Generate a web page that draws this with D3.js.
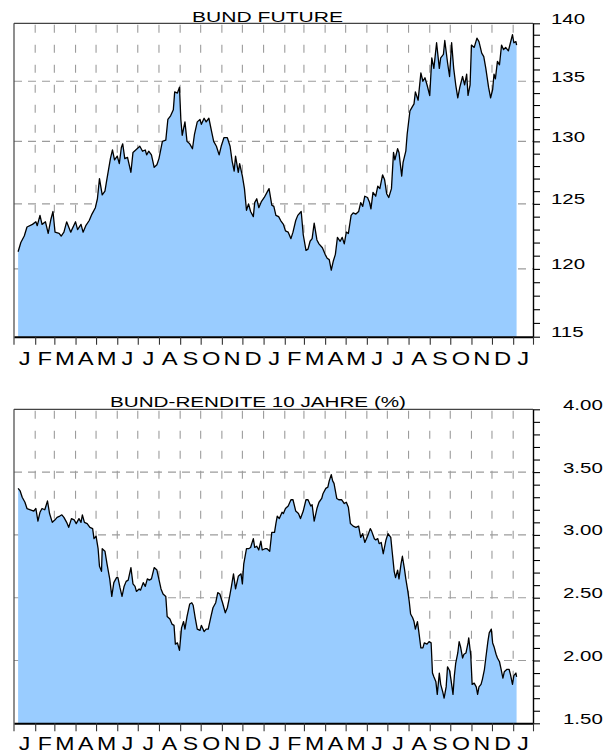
<!DOCTYPE html>
<html><head><meta charset="utf-8">
<script src="https://cdn.jsdelivr.net/npm/d3@7"></script>
<style>
body{margin:0;background:#fff;}
svg{display:block;font-family:"Liberation Sans",Arial,sans-serif;}
</style></head><body>
<svg id="c" width="615" height="754"></svg>
<script>
const monthLabels = ["J","F","M","A","M","J","J","A","S","O","N","D","J","F","M","A","M","J","J","A","S","O","N","D","J"];
const futTicks = [115,120,125,130,135,140];
const yldTicks = [1.5,2.0,2.5,3.0,3.5,4.0];
const futTitle = "BUND FUTURE";
const yldTitle = "BUND-RENDITE 10 JAHRE (%)";

const futDates = ["2010-01-07","2010-01-11","2010-01-16","2010-01-20","2010-01-28","2010-02-02","2010-02-04","2010-02-08","2010-02-11","2010-02-16","2010-02-20","2010-02-24","2010-02-27","2010-03-02","2010-03-08","2010-03-11","2010-03-15","2010-03-19","2010-03-22","2010-03-25","2010-04-01","2010-04-04","2010-04-09","2010-04-12","2010-04-16","2010-04-21","2010-04-25","2010-04-30","2010-05-03","2010-05-06","2010-05-10","2010-05-14","2010-05-17","2010-05-22","2010-05-25","2010-05-28","2010-06-01","2010-06-04","2010-06-07","2010-06-09","2010-06-12","2010-06-16","2010-06-21","2010-06-24","2010-06-28","2010-07-04","2010-07-08","2010-07-12","2010-07-14","2010-07-17","2010-07-21","2010-07-25","2010-07-29","2010-08-01","2010-08-06","2010-08-11","2010-08-14","2010-08-18","2010-08-22","2010-08-24","2010-08-28","2010-08-31","2010-09-02","2010-09-04","2010-09-08","2010-09-11","2010-09-15","2010-09-19","2010-09-22","2010-09-26","2010-09-30","2010-10-02","2010-10-06","2010-10-09","2010-10-13","2010-10-17","2010-10-20","2010-10-24","2010-10-28","2010-10-31","2010-11-04","2010-11-09","2010-11-13","2010-11-16","2010-11-19","2010-11-21","2010-11-25","2010-11-27","2010-12-01","2010-12-04","2010-12-07","2010-12-10","2010-12-13","2010-12-17","2010-12-19","2010-12-22","2010-12-25","2010-12-29","2011-01-02","2011-01-06","2011-01-09","2011-01-13","2011-01-16","2011-01-19","2011-01-23","2011-01-26","2011-01-30","2011-02-02","2011-02-06","2011-02-10","2011-02-13","2011-02-17","2011-02-20","2011-02-25","2011-02-28","2011-03-04","2011-03-07","2011-03-10","2011-03-13","2011-03-16","2011-03-20","2011-03-23","2011-03-28","2011-04-01","2011-04-04","2011-04-07","2011-04-10","2011-04-13","2011-04-16","2011-04-19","2011-04-23","2011-04-26","2011-04-29","2011-05-02","2011-05-05","2011-05-09","2011-05-12","2011-05-16","2011-05-20","2011-05-23","2011-05-26","2011-05-29","2011-06-02","2011-06-05","2011-06-07","2011-06-10","2011-06-14","2011-06-17","2011-06-20","2011-06-24","2011-06-27","2011-06-30","2011-07-03","2011-07-07","2011-07-10","2011-07-12","2011-07-16","2011-07-18","2011-07-22","2011-07-24","2011-07-28","2011-07-30","2011-08-03","2011-08-06","2011-08-09","2011-08-11","2011-08-15","2011-08-19","2011-08-22","2011-08-25","2011-08-28","2011-09-01","2011-09-04","2011-09-07","2011-09-11","2011-09-15","2011-09-17","2011-09-21","2011-09-23","2011-09-27","2011-09-30","2011-10-03","2011-10-06","2011-10-09","2011-10-12","2011-10-15","2011-10-19","2011-10-22","2011-10-25","2011-10-27","2011-10-30","2011-11-01","2011-11-05","2011-11-09","2011-11-12","2011-11-16","2011-11-19","2011-11-22","2011-11-26","2011-11-29","2011-12-02","2011-12-04","2011-12-06","2011-12-09","2011-12-12","2011-12-15","2011-12-18","2011-12-21","2011-12-25","2011-12-28","2011-12-31","2012-01-02","2012-01-05","2012-01-06"];
const futValues = [121.3,122.0,122.5,123.2,123.4,123.6,123.3,124.1,123.4,123.6,122.7,123.8,124.4,122.8,122.7,122.5,122.8,123.6,123.2,122.8,123.6,123.0,123.4,122.8,123.3,123.7,124.2,124.7,125.4,127.0,125.7,126.0,127.0,128.6,129.3,128.5,128.8,128.2,129.5,129.8,128.6,128.7,127.5,129.1,129.3,129.6,129.2,129.3,128.9,129.2,128.9,127.9,128.1,128.6,130.0,130.1,131.8,132.1,132.6,134.1,134.0,134.5,131.8,130.5,131.6,130.0,129.8,129.4,130.6,131.6,131.8,131.4,131.9,131.6,131.9,130.8,130.0,129.6,128.9,129.6,130.3,130.3,129.6,128.4,127.6,128.8,127.5,128.2,127.2,126.2,124.5,125.0,124.4,124.0,125.1,125.4,124.7,125.2,125.5,125.9,126.2,124.9,124.8,124.1,124.0,123.7,123.4,122.9,122.8,122.3,122.8,123.7,124.1,124.4,122.6,121.4,121.5,122.1,122.3,123.5,122.2,121.9,121.6,121.1,120.8,120.7,119.9,120.6,121.1,122.4,122.1,122.4,121.9,122.8,122.7,124.1,124.3,124.2,124.4,125.1,124.8,125.6,125.5,125.1,124.6,125.9,125.6,126.4,126.2,127.3,126.9,125.8,125.5,126.2,129.1,128.5,129.4,129.1,127.2,128.3,129.2,130.6,132.5,132.8,133.1,134.1,133.4,135.7,135.0,135.3,134.7,133.8,137.0,136.1,138.3,136.1,137.0,137.3,138.5,136.6,135.4,138.3,136.1,134.7,133.6,134.5,135.4,134.7,135.6,133.8,134.7,138.1,137.9,138.7,138.4,137.4,137.1,136.1,134.5,133.6,134.3,135.6,135.2,136.7,136.4,138.1,137.7,137.9,137.6,138.3,139.0,138.3,138.4,138.1];

const yldDates = ["2010-01-07","2010-01-10","2010-01-13","2010-01-17","2010-01-20","2010-01-25","2010-01-30","2010-02-02","2010-02-05","2010-02-08","2010-02-11","2010-02-15","2010-02-19","2010-02-22","2010-02-26","2010-03-02","2010-03-05","2010-03-09","2010-03-12","2010-03-15","2010-03-19","2010-03-22","2010-03-26","2010-03-30","2010-04-02","2010-04-06","2010-04-09","2010-04-11","2010-04-14","2010-04-18","2010-04-22","2010-04-26","2010-04-28","2010-05-01","2010-05-04","2010-05-06","2010-05-09","2010-05-10","2010-05-14","2010-05-17","2010-05-21","2010-05-24","2010-05-27","2010-05-31","2010-06-02","2010-06-05","2010-06-08","2010-06-11","2010-06-14","2010-06-17","2010-06-21","2010-06-24","2010-06-27","2010-06-29","2010-07-03","2010-07-05","2010-07-09","2010-07-12","2010-07-15","2010-07-18","2010-07-21","2010-07-25","2010-07-29","2010-07-31","2010-08-04","2010-08-07","2010-08-11","2010-08-13","2010-08-17","2010-08-20","2010-08-23","2010-08-25","2010-08-28","2010-08-31","2010-09-03","2010-09-06","2010-09-08","2010-09-11","2010-09-15","2010-09-18","2010-09-20","2010-09-23","2010-09-26","2010-09-30","2010-10-02","2010-10-06","2010-10-09","2010-10-12","2010-10-16","2010-10-19","2010-10-23","2010-10-26","2010-10-29","2010-11-02","2010-11-06","2010-11-09","2010-11-12","2010-11-15","2010-11-18","2010-11-21","2010-11-25","2010-11-29","2010-12-01","2010-12-03","2010-12-07","2010-12-10","2010-12-13","2010-12-17","2010-12-19","2010-12-22","2010-12-25","2010-12-28","2010-12-30","2011-01-03","2011-01-06","2011-01-10","2011-01-13","2011-01-17","2011-01-19","2011-01-21","2011-01-24","2011-01-28","2011-01-30","2011-02-02","2011-02-06","2011-02-10","2011-02-13","2011-02-17","2011-02-21","2011-02-24","2011-02-28","2011-03-04","2011-03-07","2011-03-11","2011-03-13","2011-03-16","2011-03-20","2011-03-23","2011-03-27","2011-03-29","2011-04-02","2011-04-05","2011-04-07","2011-04-10","2011-04-12","2011-04-14","2011-04-18","2011-04-21","2011-04-25","2011-04-29","2011-05-02","2011-05-05","2011-05-08","2011-05-12","2011-05-16","2011-05-20","2011-05-23","2011-05-26","2011-05-29","2011-06-02","2011-06-06","2011-06-08","2011-06-12","2011-06-14","2011-06-17","2011-06-19","2011-06-22","2011-06-25","2011-06-29","2011-07-02","2011-07-06","2011-07-08","2011-07-11","2011-07-13","2011-07-16","2011-07-18","2011-07-21","2011-07-23","2011-07-26","2011-07-28","2011-07-31","2011-08-02","2011-08-04","2011-08-07","2011-08-09","2011-08-11","2011-08-14","2011-08-16","2011-08-19","2011-08-22","2011-08-24","2011-08-28","2011-08-31","2011-09-03","2011-09-05","2011-09-07","2011-09-10","2011-09-12","2011-09-15","2011-09-17","2011-09-20","2011-09-22","2011-09-25","2011-09-27","2011-09-30","2011-10-02","2011-10-05","2011-10-07","2011-10-09","2011-10-12","2011-10-14","2011-10-16","2011-10-19","2011-10-21","2011-10-24","2011-10-27","2011-10-28","2011-10-31","2011-11-02","2011-11-05","2011-11-08","2011-11-10","2011-11-12","2011-11-15","2011-11-17","2011-11-20","2011-11-22","2011-11-25","2011-11-27","2011-11-30","2011-12-02","2011-12-04","2011-12-07","2011-12-09","2011-12-12","2011-12-14","2011-12-17","2011-12-19","2011-12-23","2011-12-26","2011-12-28","2011-12-31","2012-01-02","2012-01-05","2012-01-06"];
const yldValues = [3.37,3.35,3.30,3.26,3.21,3.20,3.19,3.21,3.11,3.18,3.21,3.20,3.27,3.17,3.10,3.12,3.14,3.15,3.16,3.14,3.10,3.06,3.13,3.12,3.09,3.13,3.10,3.16,3.10,3.09,3.06,3.05,2.97,2.99,2.89,2.75,2.71,2.89,2.87,2.77,2.65,2.51,2.62,2.66,2.66,2.58,2.51,2.59,2.63,2.64,2.74,2.61,2.59,2.55,2.57,2.56,2.62,2.59,2.65,2.64,2.65,2.74,2.72,2.67,2.57,2.53,2.51,2.35,2.33,2.29,2.28,2.13,2.14,2.08,2.26,2.31,2.25,2.35,2.45,2.46,2.44,2.34,2.25,2.24,2.28,2.23,2.25,2.25,2.35,2.42,2.46,2.54,2.53,2.46,2.38,2.42,2.50,2.59,2.69,2.57,2.67,2.69,2.61,2.77,2.89,2.89,2.90,2.97,2.90,2.91,2.88,2.95,2.88,2.89,2.89,2.87,3.02,3.02,3.09,3.15,3.13,3.18,3.17,3.21,3.23,3.28,3.28,3.19,3.17,3.13,3.19,3.28,3.28,3.23,3.24,3.11,3.21,3.26,3.29,3.33,3.37,3.38,3.43,3.48,3.43,3.41,3.29,3.28,3.28,3.25,3.26,3.22,3.09,3.07,3.06,3.07,2.98,3.01,2.94,2.99,3.05,3.03,2.97,2.96,2.97,2.93,2.94,2.85,2.96,3.01,2.98,2.87,2.71,2.66,2.72,2.65,2.77,2.83,2.73,2.65,2.55,2.47,2.37,2.34,2.31,2.25,2.31,2.23,2.10,2.10,2.14,2.13,2.15,2.14,1.90,1.87,1.83,1.73,1.90,1.81,1.75,1.70,1.79,1.95,1.92,1.85,1.73,1.88,1.98,2.06,2.15,2.11,2.02,2.05,2.06,2.14,2.18,2.04,1.81,1.82,1.79,1.73,1.79,1.81,1.85,1.93,2.02,2.15,2.22,2.25,2.14,2.11,2.05,2.02,1.99,1.94,1.86,1.91,1.93,1.93,1.89,1.81,1.88,1.90,1.87];

const L = 14, R = 533, SX = 1.32;
const parse = d3.timeParse("%Y-%m-%d");
const x = d3.scaleTime().domain([new Date(2010,0,1), new Date(2012,0,30)]).range([L, R]);
const months = d3.timeMonth.range(new Date(2010,0,1), new Date(2012,1,1));
const svg = d3.select("#c");

function panel(o) {
  const g = svg.append("g");
  const y = o.y, T = o.top, B = o.bottom;
  g.append("g").selectAll("line").data(months.slice(1)).join("line")
    .attr("x1", d => x(d)).attr("x2", d => x(d))
    .attr("y1", T + 1.5).attr("y2", B)
    .attr("stroke", "#9c9c9c").attr("stroke-width", 1.1)
    .attr("stroke-dasharray", "8,12");
  g.append("g").selectAll("line").data(o.major.slice(1, -1)).join("line")
    .attr("x1", L).attr("x2", R)
    .attr("y1", d => y(d)).attr("y2", d => y(d))
    .attr("stroke", "#9c9c9c").attr("stroke-width", 1.1)
    .attr("stroke-dasharray", "8,6");
  const data = o.dates.map((d, i) => ({d: parse(d), v: o.values[i]}));
  g.append("path").datum(data)
    .attr("d", d3.area().x(p => x(p.d)).y0(B).y1(p => y(p.v)))
    .attr("fill", "#99ccff");
  g.append("path").datum(data)
    .attr("d", d3.line().x(p => x(p.d)).y(p => y(p.v)))
    .attr("fill", "none").attr("stroke", "#000").attr("stroke-width", 1.3)
    .attr("stroke-linejoin", "round");
  g.append("line").attr("x1", L).attr("x2", R).attr("y1", T).attr("y2", T)
    .attr("stroke", "#444").attr("stroke-width", 1.2);
  g.append("line").attr("x1", L).attr("x2", L).attr("y1", T).attr("y2", B + 8)
    .attr("stroke", "#444").attr("stroke-width", 1.2);
  const ra = g.append("g").attr("transform", `translate(${R},0)`)
    .call(d3.axisRight(y).tickValues(o.minor).tickSize(7).tickSizeOuter(0).tickFormat(""));
  ra.select(".domain").attr("stroke", "#000").attr("stroke-width", 1.4);
  ra.selectAll(".tick line").attr("stroke", "#000").attr("stroke-width", 1.1);
  const ba = g.append("g").attr("transform", `translate(0,${B})`)
    .call(d3.axisBottom(x).tickValues(months.slice(1).concat([x.domain()[1]])).tickSize(8).tickSizeOuter(0).tickFormat(""));
  ba.select(".domain").attr("stroke", "#000").attr("stroke-width", 2);
  ba.selectAll(".tick line").attr("stroke", "#333").attr("stroke-width", 1.1);
  const edges = months.concat([x.domain()[1]]);
  g.append("g").selectAll("text").data(monthLabels).join("text")
    .attr("transform", (d, i) => `translate(${(x(edges[i]) + x(edges[i + 1])) / 2},${o.monthY}) scale(${SX},1)`)
    .attr("text-anchor", "middle").attr("font-size", o.monthSize).attr("fill", "#000")
    .text(d => d);
  g.append("g").selectAll("text").data(o.major).join("text")
    .attr("transform", d => `translate(${o.labelX},${y(d) + 0.5}) scale(${SX},1)`)
    .attr("font-size", 15.5).attr("fill", "#000")
    .text(o.fmt);
  g.append("text").attr("x", o.titleX).attr("y", o.titleY)
    .attr("font-size", 15).attr("fill", "#000")
    .attr("textLength", o.titleLen).attr("lengthAdjust", "spacingAndGlyphs")
    .text(o.title);
}

panel({
  y: d3.scaleLog().domain([115, 140]).range([336.7, 23.3]),
  top: 23.3, bottom: 336.7,
  dates: futDates, values: futValues,
  major: futTicks, minor: d3.range(115, 141, 1),
  fmt: d3.format("d"), labelX: 551,
  monthY: 365, monthSize: 18,
  title: futTitle, titleX: 192, titleY: 21.7, titleLen: 151
});
panel({
  y: d3.scaleLinear().domain([1.5, 4.0]).range([723.3, 409.3]),
  top: 409.3, bottom: 723.3,
  dates: yldDates, values: yldValues,
  major: yldTicks, minor: d3.range(15, 41).map(v => v / 10),
  fmt: d3.format(".2f"), labelX: 563,
  monthY: 750, monthSize: 17.5,
  title: yldTitle, titleX: 110, titleY: 406.7, titleLen: 296
});
</script>
</body></html>
